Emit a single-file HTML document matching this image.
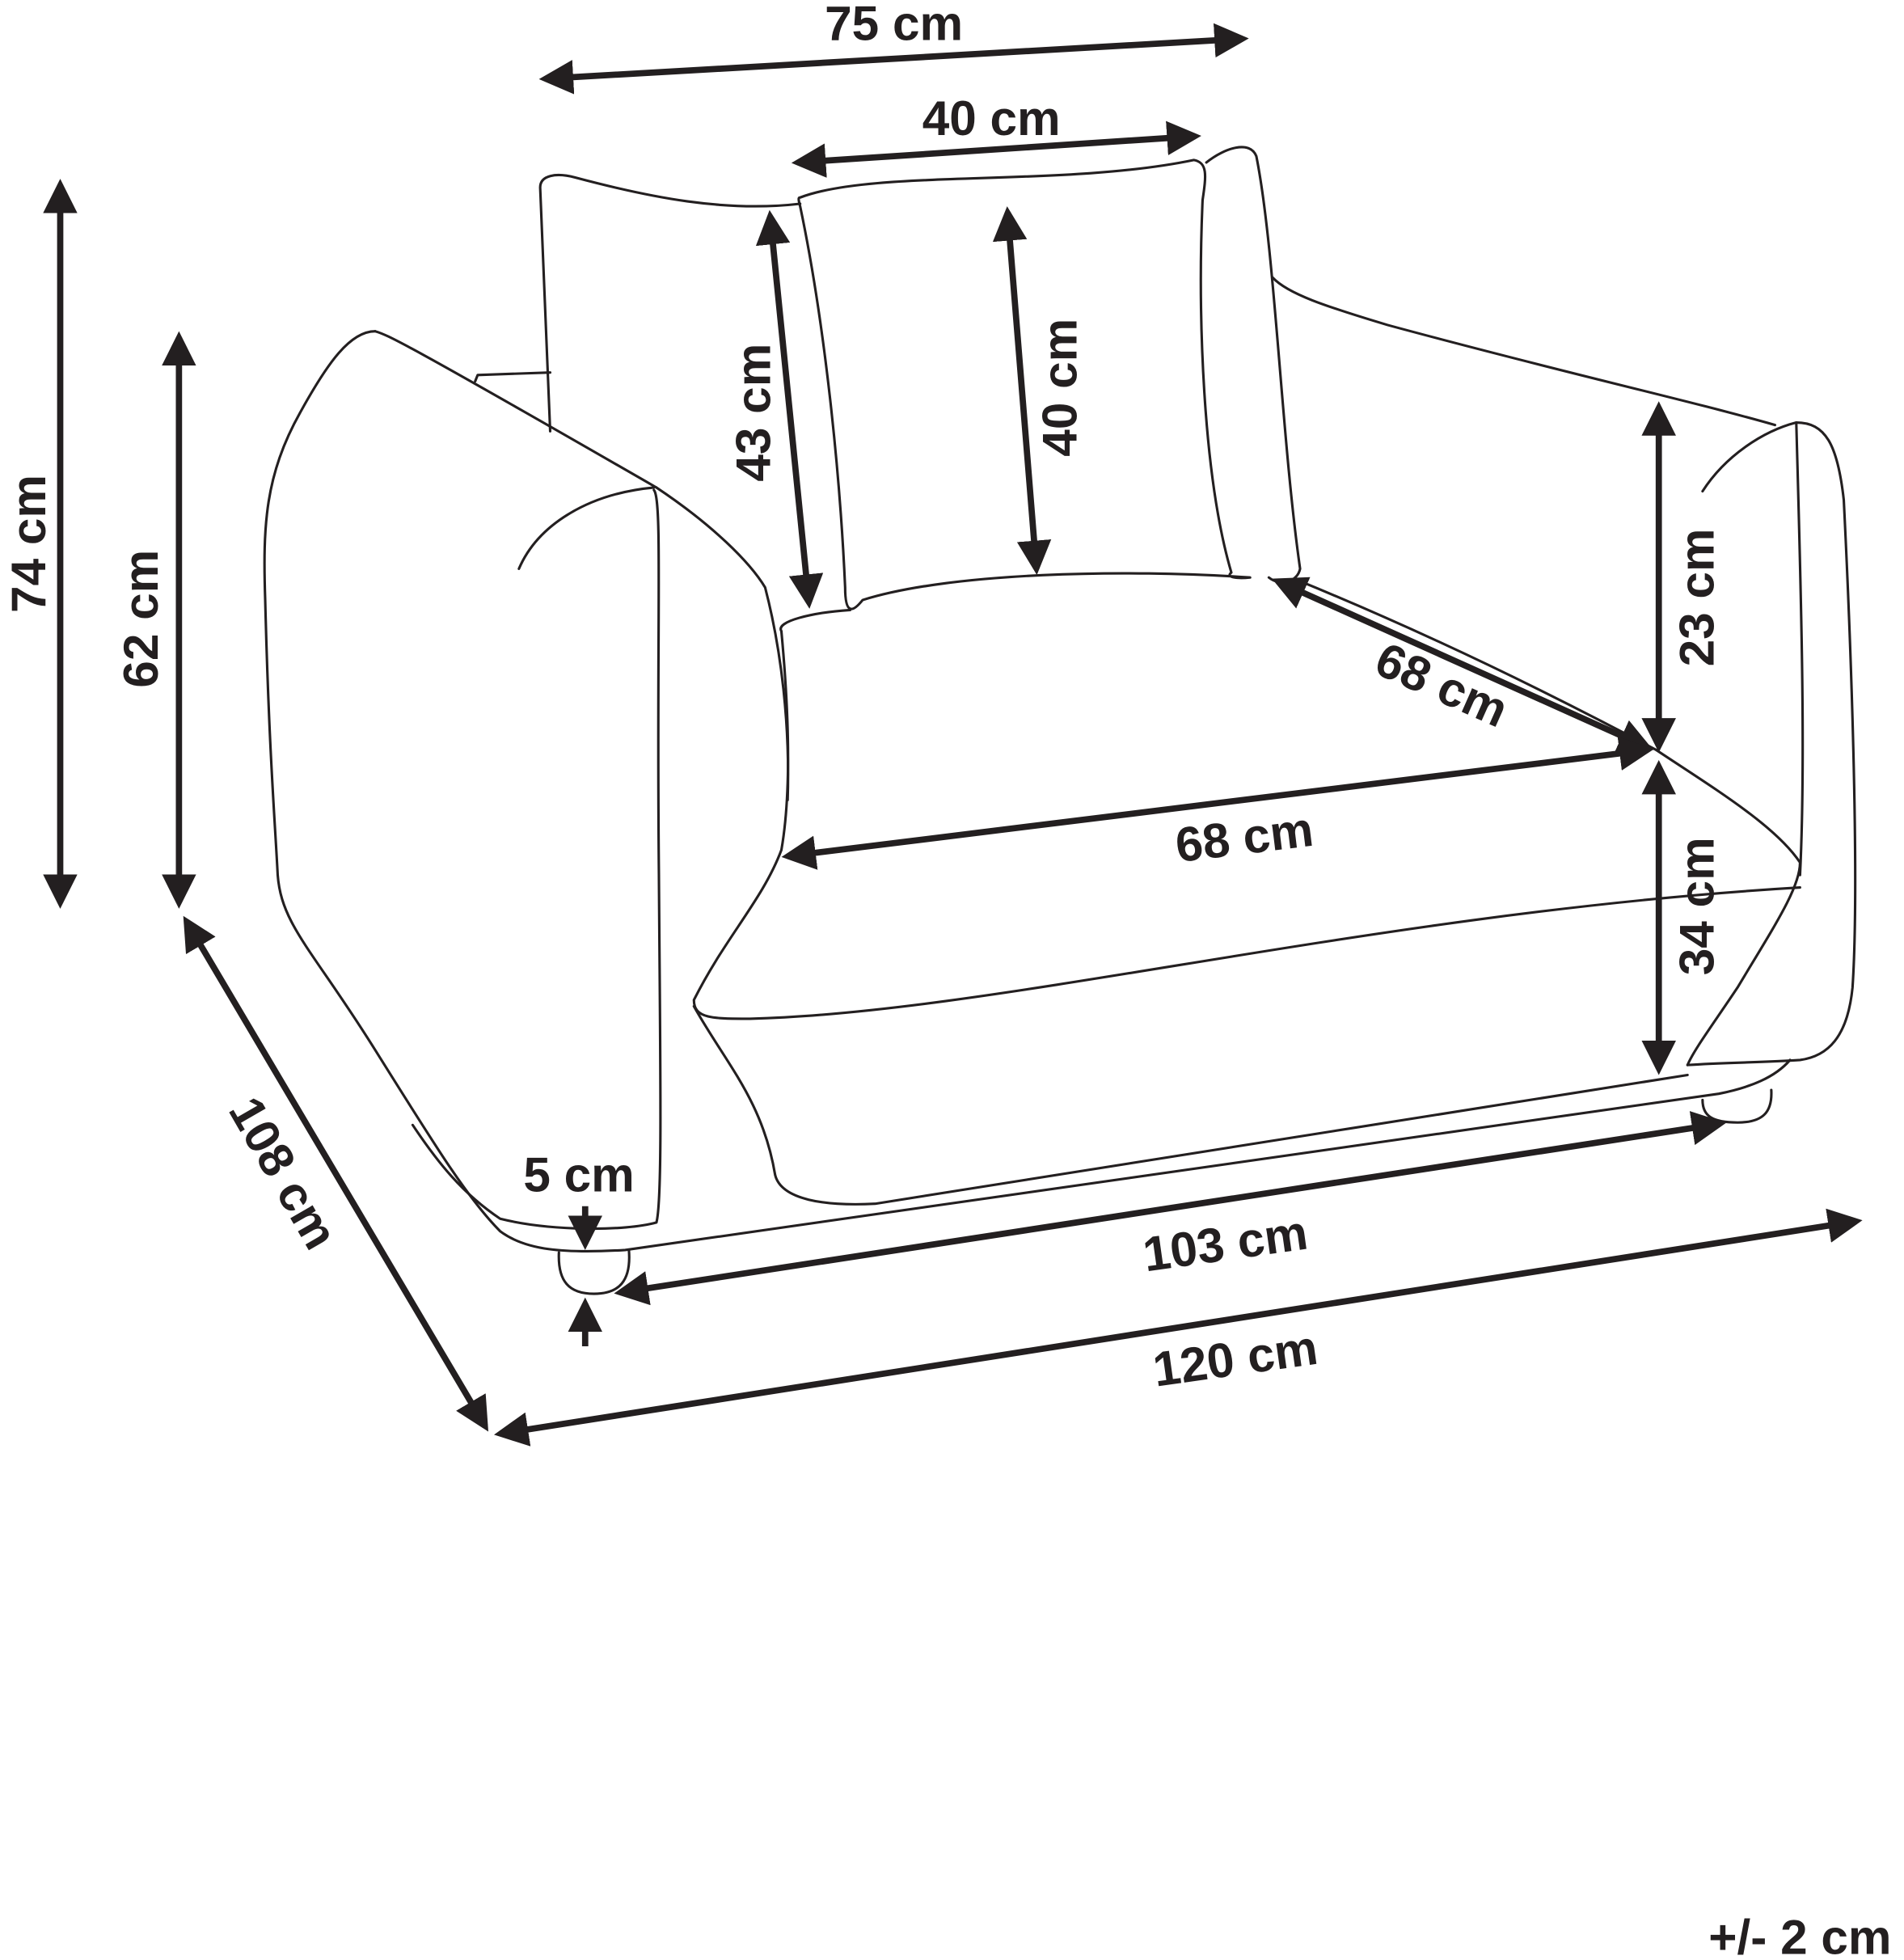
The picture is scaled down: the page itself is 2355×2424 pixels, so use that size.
<!DOCTYPE html>
<html><head><meta charset="utf-8"><style>
html,body{margin:0;padding:0;background:#fff}
svg{display:block}
text{font-family:"Liberation Sans",sans-serif;font-weight:bold;fill:#231f20;font-size:39px}
</style></head><body>
<svg width="2355" height="2424" viewBox="0 0 1523 1568" xmlns="http://www.w3.org/2000/svg">
<defs>
<marker id="a" markerWidth="5.5" markerHeight="5.5" refX="4.5" refY="2.75" orient="auto-start-reverse" markerUnits="strokeWidth">
<path d="M0,0 L5.5,2.75 L0,5.5 Z" fill="#231f20"/></marker>
</defs>
<rect width="1523" height="1568" fill="#fff"/>
<g fill="none" stroke="#231f20" stroke-width="2" stroke-linejoin="round" stroke-linecap="round">
<path d="M440,345 L432,150 C432,140 445,138 460,142 C520,158 580,170 640,163"/>
<path d="M380,305 L382,300 L440,298"/>
<path d="M640,158 C700,135 850,150 955,128 C966,130 965,140 962,160 C958,250 962,380 985,458 C980,462 990,463 1000,462 C900,455 760,458 690,480 C682,490 676,492 676,470 C672,380 660,260 640,165 C638,158 639,158 640,158 Z"/>
<path d="M965,130 C980,118 1000,112 1005,125 C1020,200 1025,350 1040,455 C1038,465 1025,470 1015,462"/>
<path d="M1018,222 C1030,235 1060,245 1110,260 C1250,298 1350,320 1420,340"/>
<path d="M1362,393 C1380,365 1410,345 1437,338 C1460,338 1470,355 1475,400 C1480,500 1488,700 1482,790 C1478,830 1462,845 1440,848 C1410,850 1380,850 1350,852"/>
<path d="M1437,338 C1440,450 1445,600 1440,700"/>
<path d="M1325,600 C1370,630 1420,660 1440,690 C1440,710 1420,740 1390,790 C1370,820 1355,840 1350,852"/>
<path d="M1040,465 C1150,510 1250,560 1325,600"/>
<path d="M625,505 C620,497 650,490 680,488"/>
<path d="M625,505 C632,580 632,640 625,680 C610,720 580,750 555,800 C555,815 570,815 600,815 C800,810 1100,730 1440,710"/>
<path d="M555,805 C580,850 610,880 620,940 C625,960 660,965 700,963 L1350,860"/>
<path d="M300,265 C280,265 262,290 240,330 C212,380 210,420 212,480 C215,600 220,660 222,700 C225,740 250,760 300,840 C350,920 375,960 400,985 C420,1000 450,1003 500,1000 L1375,875 C1400,870 1420,862 1432,848"/>
<path d="M300,265 C310,268 320,272 525,390"/>
<path d="M523,390 C470,395 430,420 415,455"/>
<path d="M523,392 C530,400 525,500 527,700 C528,850 530,960 525,978 C500,985 440,985 400,975 C370,955 350,930 330,900"/>
<path d="M525,390 C570,420 600,450 612,470 C625,520 632,580 630,640"/>
<path d="M447,1002 C446,1025 455,1035 475,1035 C495,1035 505,1025 503,1000"/>
<path d="M1362,880 C1362,893 1370,898 1390,898 C1410,898 1418,890 1417,872"/>
</g>
<g stroke="#231f20" stroke-width="5" fill="none" marker-start="url(#a)" marker-end="url(#a)">
<line x1="436" y1="63" x2="994" y2="31"/>
<line x1="638" y1="130" x2="956" y2="109"/>
<line x1="48" y1="148" x2="48" y2="722"/>
<line x1="143" y1="270" x2="143" y2="722"/>
<line x1="616" y1="173" x2="647" y2="482"/>
<line x1="806" y1="170" x2="829" y2="455"/>
<line x1="1327" y1="326" x2="1327" y2="597"/>
<line x1="1327" y1="613" x2="1327" y2="855"/>
<line x1="1022" y1="465" x2="1318" y2="598"/>
<line x1="630" y1="685" x2="1318" y2="600"/>
<line x1="149" y1="737" x2="388" y2="1141"/>
<line x1="496" y1="1034" x2="1376" y2="899"/>
<line x1="400" y1="1147" x2="1485" y2="977"/>
</g>
<g stroke="#231f20" stroke-width="5" fill="none" marker-end="url(#a)">
<line x1="468" y1="965" x2="468" y2="995"/>
<line x1="468" y1="1077" x2="468" y2="1043"/>
</g>
<text x="715" y="32" text-anchor="middle">75 cm</text>
<text x="793" y="108" text-anchor="middle">40 cm</text>
<text transform="translate(36,435) rotate(-90)" text-anchor="middle">74 cm</text>
<text transform="translate(126,495) rotate(-90)" text-anchor="middle">62 cm</text>
<text transform="translate(616,330) rotate(-90)" text-anchor="middle">43 cm</text>
<text transform="translate(861,310) rotate(-90)" text-anchor="middle">40 cm</text>
<text transform="translate(1371,478) rotate(-90)" text-anchor="middle">23 cm</text>
<text transform="translate(1371,725) rotate(-90)" text-anchor="middle">34 cm</text>
<text transform="translate(1148,560) rotate(24)" text-anchor="middle">68 cm</text>
<text transform="translate(997,683) rotate(-7)" text-anchor="middle">68 cm</text>
<text transform="translate(215,945) rotate(60)" text-anchor="middle">108 cm</text>
<text transform="translate(982,1008) rotate(-8)" text-anchor="middle">103 cm</text>
<text transform="translate(990,1100) rotate(-8)" text-anchor="middle">120 cm</text>
<text x="463" y="953" text-anchor="middle">5 cm</text>
<text x="1440" y="1563" text-anchor="middle">+/- 2 cm</text>
</svg>
</body></html>
